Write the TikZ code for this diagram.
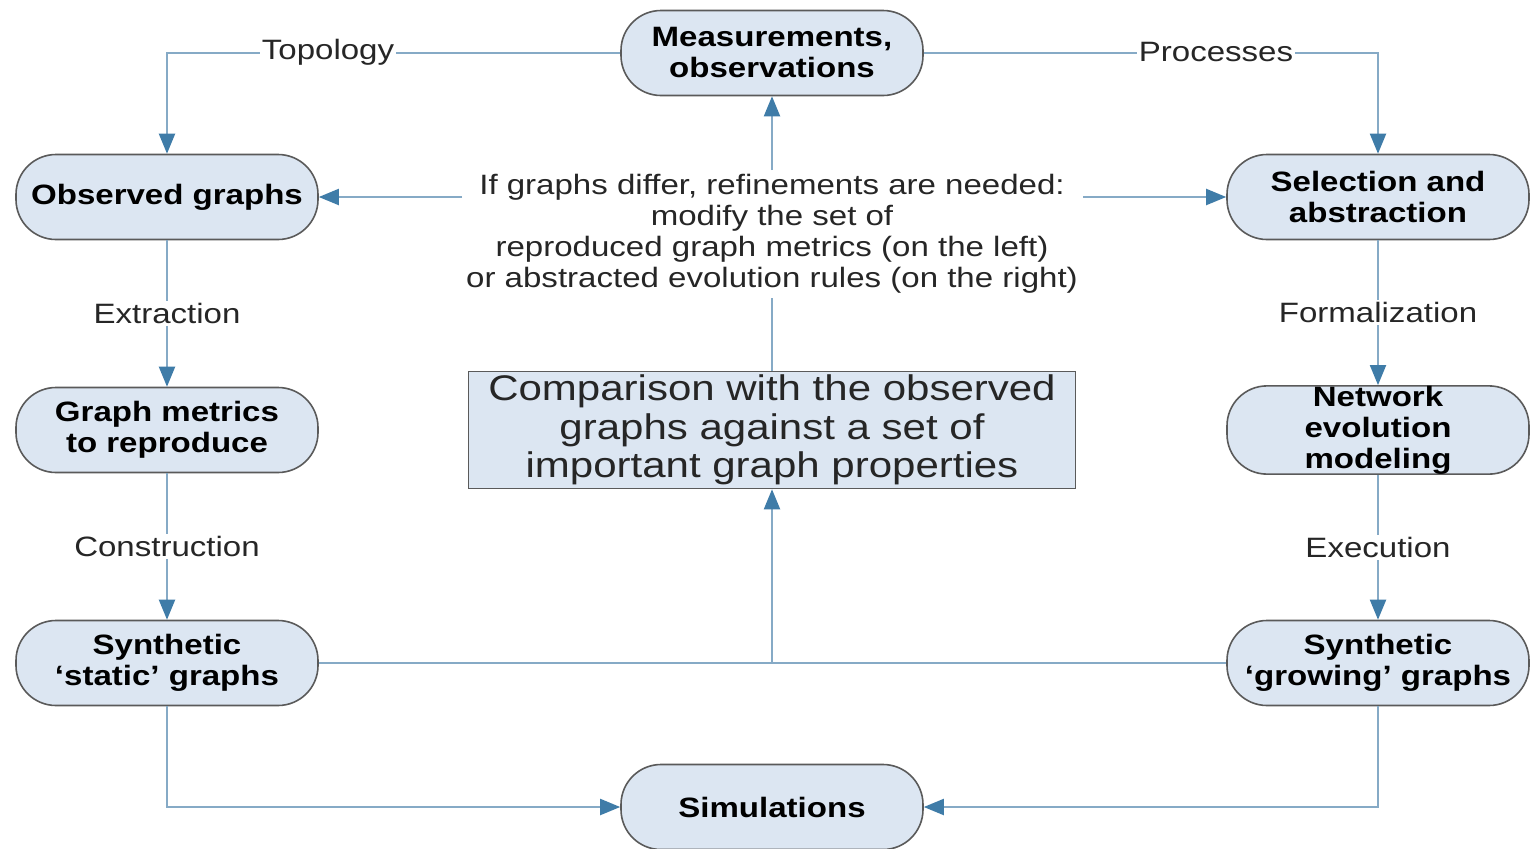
\documentclass[tikz,border=0pt]{standalone}
\usepackage{fontspec}
\setmainfont[FakeStretch=1.18]{Liberation Sans}
\usetikzlibrary{arrows.meta}
\definecolor{nodefill}{HTML}{DCE6F2}
\definecolor{nodedraw}{HTML}{5A5A5A}
\definecolor{linec}{HTML}{86AAC6}
\definecolor{tipc}{HTML}{3F7CA8}
\begin{document}
\begin{tikzpicture}[x=1pt,y=-1pt,
 pill/.style={draw=nodedraw,fill=nodefill,line width=1.6pt,rounded corners=40pt,minimum width=302pt,minimum height=85pt,align=center,font=\fontsize{28}{31}\selectfont\bfseries,inner sep=0pt},
 conn/.style={draw=linec,line width=2pt},
 arr/.style={conn,-{Triangle[length=20pt,width=16pt,color=tipc]}},
 lab/.style={fill=white,font=\fontsize{28}{31}\selectfont,inner sep=2pt,text=black!85}]
\useasboundingbox[fill=white] (0,0) rectangle (1535,849);

\node[pill] (meas) at (772,53) {Measurements,\\observations};
\node[pill] (obs) at (167,197) {Observed graphs};
\node[pill] (sel) at (1378,197) {Selection and\\abstraction};
\node[pill] (met) at (167,430) {Graph metrics\\to reproduce};
\node[pill] (net) at (1378,430) {Network\\evolution\\modeling};
\node[pill] (stat) at (167,663) {Synthetic\\‘static’ graphs};
\node[pill] (grow) at (1378,663) {Synthetic\\‘growing’ graphs};
\node[pill] (sim) at (772,807) {Simulations};
\node[draw=nodedraw,fill=nodefill,line width=1.6pt,minimum width=607pt,minimum height=117pt,align=center,inner sep=0pt,font=\fontsize{35.6}{38.5}\selectfont,text=black!85] (comp) at (772,430) {Comparison with the observed\\graphs against a set of\\important graph properties};
\node[align=center,font=\fontsize{28}{31}\selectfont,text=black!85] (txt) at (772,233.5) {If graphs differ, refinements are needed:\\modify the set of\\reproduced graph metrics (on the left)\\or abstracted evolution rules (on the right)};

\coordinate (tl) at (462,197);
\coordinate (tr) at (1083,197);
\coordinate (tt) at (772,170);
\coordinate (tb) at (772,298);
\coordinate (mid) at (772,663);

\draw[arr] (meas.west) -| (obs.north);
\draw[arr] (meas.east) -| (sel.north);
\node[lab] (topo) at (328,52) {Topology};
\node[lab] (proc) at (1216,52) {Processes};

\draw[arr] (tl) -- (obs.east);
\draw[arr] (tr) -- (sel.west);
\draw[arr] (tt) -- (meas.south);
\draw[conn] (comp.north) -- (tb);

\draw[arr] (obs.south) -- node[lab] (ext) {Extraction} (met.north);
\draw[arr] (met.south) -- node[lab] (cons) {Construction} (stat.north);
\draw[arr] (sel.south) -- node[lab] (form) {Formalization} (net.north);
\draw[arr] (net.south) -- node[lab] (exe) {Execution} (grow.north);

\draw[conn] (stat.east) -- (grow.west);
\draw[arr] (mid) -- (comp.south);
\draw[arr] (stat.south) |- (sim.west);
\draw[arr] (grow.south) |- (sim.east);
\end{tikzpicture}
\end{document}
